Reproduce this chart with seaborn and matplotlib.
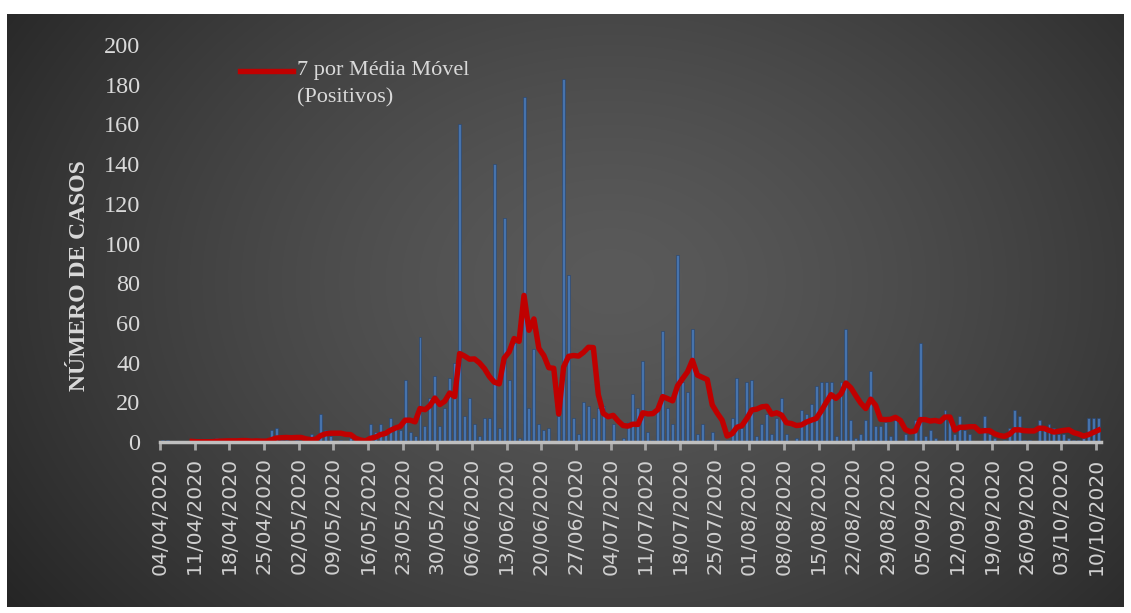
import numpy as np
import pandas as pd
import matplotlib
matplotlib.use("Agg")
import matplotlib.pyplot as plt
from matplotlib.lines import Line2D
import seaborn as sns
from datetime import date, timedelta

# ---------------- data ----------------
start_date = date(2020, 4, 4)
cases_apr_may = [1, 1, 0, 0, 0, 0, 0, 0, 1, 0, 0, 2, 0, 1, 0, 1, 1, 0, 0, 1, 0, 0,
                 6, 7, 1, 1, 0, 1, 0, 1, 4, 3, 14, 6, 3, 0, 1, 0, 2, 1, 0, 0, 9, 5]
cases_may_jul = [9, 6, 12, 8, 6, 31, 5, 3, 53, 8, 22, 33, 8, 17, 32, 40, 160, 13, 22, 9,
                 3, 12, 12, 140, 7, 113, 31, 50, 2, 174, 17, 47, 9, 6, 7, 0, 13, 183, 84, 12,
                 4, 20, 18, 12, 17, 18, 0, 9, 0, 2, 10]
cases_jul_aug = [24, 17, 41, 5, 1, 16, 56, 17, 9, 94, 30, 25, 57, 4, 9, 1, 5, 1, 0, 1,
                 12, 32, 7, 30, 31, 3, 9, 14]
cases_aug_sep = [4, 12, 22, 4, 0, 2, 16, 14, 19, 28, 30, 30, 30, 3, 30, 57, 11, 2, 4, 11,
                 36, 8, 8, 10, 3, 11, 0, 4, 0, 11, 50, 3, 6, 2]
cases_sep_oct = [0, 16, 11, 4, 13, 6, 4, 0, 0, 13, 4, 2, 0, 1, 7, 16, 13, 1, 1, 0,
                 11, 6, 9, 7, 4, 4, 2, 1, 1, 2, 12, 12, 12]
positivos = cases_apr_may + cases_may_jul + cases_jul_aug + cases_aug_sep + cases_sep_oct
n_days = len(positivos)
dias = list(range(n_days))
datas = [(start_date + timedelta(days=d)).strftime("%d/%m/%Y") for d in dias]
tick_days = list(range(0, n_days, 7))
tick_labels = [datas[d] for d in tick_days]
y_ticks = list(range(0, 201, 20))
legend_label = "7 por Média Móvel\n(Positivos)"
y_label = "NÚMERO DE CASOS"

df = pd.DataFrame({"dia": dias, "positivos": positivos})
df["media_movel"] = df["positivos"].rolling(7).mean()

# ---------------- figure ----------------
W, H = 1131, 613
fig = plt.figure(figsize=(W / 100, H / 100), dpi=100)
fig.patch.set_facecolor("white")

# dark radial-gradient background panel
bx0, by0, bx1, by1 = 7, 14, 1124, 607
bg_ax = fig.add_axes([bx0 / W, 1 - by1 / H, (bx1 - bx0) / W, (by1 - by0) / H])
bg_ax.set_axis_off()
gy, gx = np.mgrid[0:300, 0:600]
cx, cy = 0.54 * 600, 0.45 * 300
r = np.sqrt(((gx - cx) / 600) ** 2 + ((gy - cy) / 300) ** 2 * 0.5)
r = np.clip(r / r.max(), 0, 1)
c_in, c_out = 0x5a / 255, 0x25 / 255
shade = c_in + (c_out - c_in) * r ** 1.4
img = np.dstack([shade, shade, shade])
bg_ax.imshow(img, aspect="auto", extent=[0, 1, 0, 1], interpolation="bicubic")

# main axes
ax_l, ax_r, ax_t, ax_b = 160, 1101, 45, 442
ax = fig.add_axes([ax_l / W, 1 - ax_b / H, (ax_r - ax_l) / W, (ax_b - ax_t) / H])
ax.set_facecolor("none")

sns.barplot(data=df, x="dia", y="positivos", ax=ax, color="#4673ad",
            width=0.6, saturation=1, edgecolor="#27426a", linewidth=0.4)
sns.lineplot(x=df["dia"], y=df["media_movel"], ax=ax, color="#c00000",
             linewidth=3.9, legend=False)

ax.set_xlim(-0.5, n_days - 0.5)
ax.set_ylim(0, 200)

txt = "#d9d9d9"
ax.set_xticks([d - 0.5 for d in tick_days])
ax.set_xticklabels(tick_labels, rotation=90, fontsize=14.6, color="#d0d0d0",
                   family="DejaVu Sans", va="top", ha="center")
ax.set_yticks(y_ticks)
ax.set_yticklabels([str(v) for v in y_ticks], fontsize=17.5, color=txt,
                   family="Liberation Serif")
ax.tick_params(axis="y", length=0, pad=14)
ax.tick_params(axis="x", length=6, width=2, color="#a6a6a6", pad=5)
ax.set_xlabel("")
ax.set_ylabel(y_label, fontsize=17, fontweight="bold", color=txt,
              family="Liberation Serif")
ax.yaxis.set_label_coords((90 - ax_l) / (ax_r - ax_l), (ax_b - 276) / (ax_b - ax_t))
ax.grid(False)
for s in ["top", "right", "left"]:
    ax.spines[s].set_visible(False)
ax.spines["bottom"].set_color("#bfbfbf")
ax.spines["bottom"].set_linewidth(2.5)

# legend (line sample + two-line label)
fig.add_artist(Line2D([240 / W, 293 / W], [1 - 71 / H, 1 - 71 / H],
                      color="#c00000", linewidth=3.9, transform=fig.transFigure))
fig.text(297 / W, 1 - 61 / H, legend_label, ha="left", va="top", color=txt,
         family="Liberation Serif", fontsize=16, linespacing=1.55)

fig.savefig("out.png", dpi=100, facecolor="white")
